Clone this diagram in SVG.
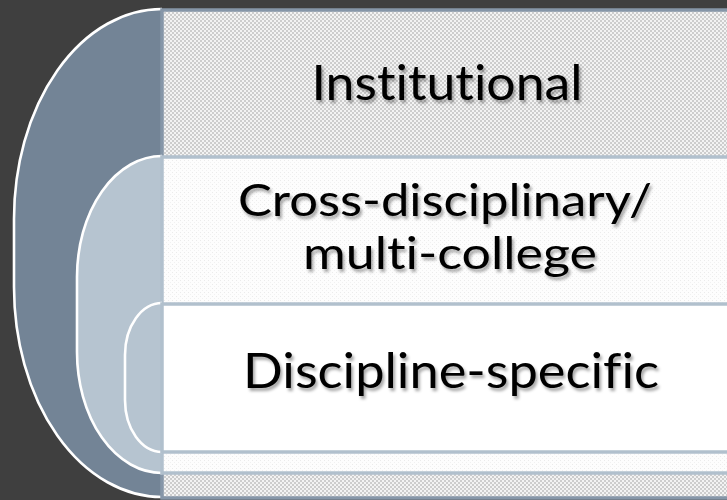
<svg xmlns="http://www.w3.org/2000/svg" width="727" height="500" viewBox="0 0 727 500">
<defs>
<pattern id="checker" patternUnits="userSpaceOnUse" width="4" height="4">
<rect width="4" height="4" fill="#f3f3f3"/>
<rect x="0" y="0" width="2" height="2" fill="#cdcdcd"/>
<rect x="2" y="2" width="2" height="2" fill="#cdcdcd"/>
</pattern>
<pattern id="faint" patternUnits="userSpaceOnUse" width="4" height="4">
<rect width="4" height="4" fill="#fdfdfd"/>
<rect x="0" y="0" width="1" height="1" fill="#ebebeb"/>
<rect x="2" y="2" width="1" height="1" fill="#f1f1f1"/>
</pattern>
<filter id="shadow" x="-10%" y="-20%" width="120%" height="150%">
<feDropShadow dx="2" dy="3" stdDeviation="1.6" flood-color="#000" flood-opacity="0.35"/>
</filter>
</defs>
<style>
.arc { stroke: #ffffff; stroke-width: 2.6; }
.outer { fill: #738496; }
.light { fill: #b6c4d0; }
.box { stroke-width: 3.5; }
.label { font-family: Lato, "Open Sans", "Liberation Sans", sans-serif; font-size: 48px; fill: #000; text-anchor: middle; filter: url(#shadow); font-variant-ligatures: none; font-feature-settings: "liga" 0, "clig" 0; }
.two { font-size: 44px; }
</style>
<rect width="727" height="500" fill="#3f3f3f"/>
<g id="institutional">
<path class="outer arc" d="M162,9 A148,210 0 0 0 14,219 L14,287 A148,210 0 0 0 162,497"/>
<rect class="box" x="162" y="10" width="600" height="488" fill="url(#checker)" stroke="#8696a8"/>
<text class="label" x="447" y="100" textLength="271" lengthAdjust="spacingAndGlyphs">Institutional</text>
</g>
<g id="cross-disciplinary">
<path class="light arc" d="M162,156 A85,121 0 0 0 77,277 L77,352 A85,121 0 0 0 162,473"/>
<rect class="box" x="162" y="157" width="600" height="316" fill="url(#faint)" stroke="#b1c0cd"/>
<text class="label two" x="445" y="216" textLength="414" lengthAdjust="spacingAndGlyphs">Cross-disciplinary/</text>
<text class="label two" x="450" y="269" textLength="294" lengthAdjust="spacingAndGlyphs">multi-college</text>
</g>
<g id="discipline-specific">
<path class="light arc" d="M162,303 A37,52 0 0 0 125,355 L125,400 A37,52 0 0 0 162,452"/>
<rect class="box" x="162" y="304" width="600" height="148" fill="#ffffff" stroke="#b1c0cd"/>
<text class="label" x="451" y="388" textLength="416" lengthAdjust="spacingAndGlyphs">Discipline-specific</text>
</g>
<g id="connectors"/>
</svg>
